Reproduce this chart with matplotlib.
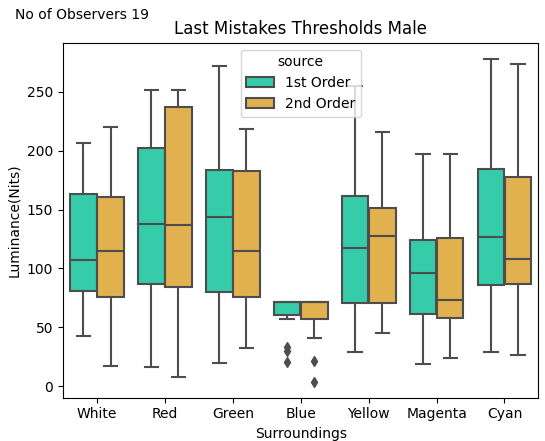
import matplotlib
matplotlib.use('Agg')
import matplotlib.pyplot as plt
from matplotlib.patches import Patch

surroundings = ['White', 'Red', 'Green', 'Blue', 'Yellow', 'Magenta', 'Cyan']
orders = ['1st Order', '2nd Order']
colors = ['#36cca9', '#e2b14f']

# box summaries per surrounding: whisker low, q1, median, q3, whisker high
first_lo = [42.4, 16.4, 20.0, 56.9, 29.1, 18.7, 29.4]
first_q1 = [81.1, 87.1, 80.0, 60.5, 70.9, 61.1, 86.0]
first_med = [107.4, 137.5, 143.7, 71.3, 117.4, 95.9, 127.0]
first_q3 = [162.9, 202.5, 183.8, 71.3, 161.2, 124.2, 184.7]
first_hi = [206.2, 251.2, 271.6, 71.3, 255.1, 196.9, 277.7]
first_fliers = [[], [], [], [33.6, 30.0, 20.4], [], [], []]

second_lo = [17.0, 7.9, 32.8, 41.3, 45.0, 23.8, 26.8]
second_q1 = [76.0, 84.3, 76.0, 57.1, 70.7, 58.2, 87.1]
second_med = [114.8, 137.2, 114.6, 71.3, 127.8, 73.5, 107.8]
second_q3 = [160.4, 236.8, 182.7, 71.3, 151.0, 125.6, 177.9]
second_hi = [220.0, 251.2, 218.1, 71.3, 216.1, 196.9, 273.5]
second_fliers = [[], [], [], [21.5, 3.9], [], [], []]

series = [
    (first_lo, first_q1, first_med, first_q3, first_hi, first_fliers),
    (second_lo, second_q1, second_med, second_q3, second_hi, second_fliers),
]

gray = '#4d4d4d'
fig = plt.figure(figsize=(5.45, 4.41), dpi=100)
ax = fig.add_axes([0.1156, 0.0982, 0.8724, 0.8048])

for k, (lo, q1, med, q3, hi, fl) in enumerate(series):
    stats = []
    for i in range(len(surroundings)):
        stats.append(dict(whislo=lo[i], q1=q1[i], med=med[i], q3=q3[i],
                          whishi=hi[i], fliers=fl[i]))
    pos = [i - 0.2 + 0.4 * k for i in range(len(surroundings))]
    ax.bxp(stats, positions=pos, widths=0.392, patch_artist=True,
           boxprops=dict(facecolor=colors[k], edgecolor=gray, linewidth=1.5),
           medianprops=dict(color=gray, linewidth=1.5),
           whiskerprops=dict(color=gray, linewidth=1.5),
           capprops=dict(color=gray, linewidth=1.5),
           flierprops=dict(marker='d', markerfacecolor=gray,
                           markeredgecolor=gray, markersize=5),
           manage_ticks=False)

ax.set_xlim(-0.5, 6.5)
ax.set_ylim(-9.7, 291.6)
ax.set_xticks(range(len(surroundings)))
ax.set_xticklabels(surroundings)
ax.set_yticks([0, 50, 100, 150, 200, 250])
ax.set_xlabel('Surroundings')
ax.set_ylabel('Luminance(Nits)')
ax.set_title('Last Mistakes Thresholds Male')

handles = [Patch(facecolor=c, edgecolor=gray, linewidth=1.5) for c in colors]
ax.legend(handles, orders, title='source', loc='upper center')

fig.text(0.027, 0.965, 'No of Observers 19', fontsize=10, va='center')

plt.savefig('out.png', dpi=100)
